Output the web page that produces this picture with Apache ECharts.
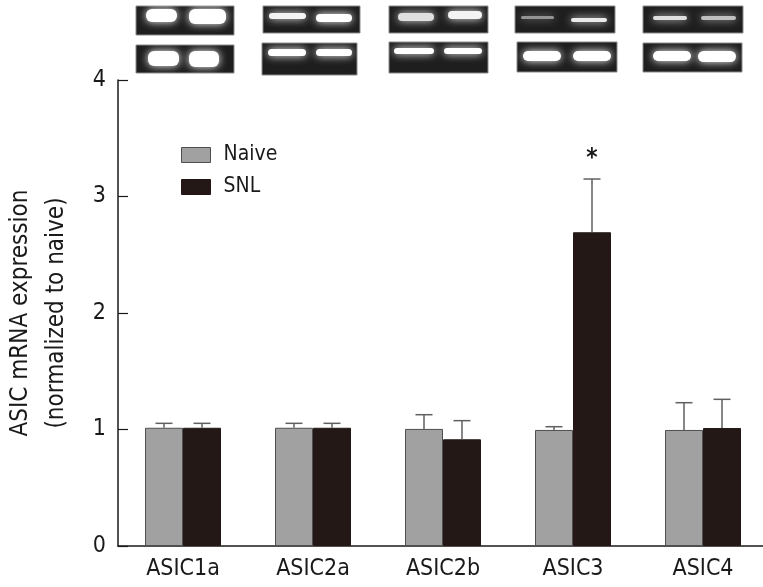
<!DOCTYPE html>
<html>
<head>
<meta charset="utf-8">
<script src="https://cdn.jsdelivr.net/npm/echarts@6/dist/echarts.min.js"></script>
<style>
  html, body { margin: 0; padding: 0; background: #fff; }
  #chart { width: 763px; height: 587px; }
</style>
</head>
<body>
<div id="chart"></div>
<script>
// data
var genes = ['ASIC1a', 'ASIC2a', 'ASIC2b', 'ASIC3', 'ASIC4'];
var naiveMean = [1.015, 1.015, 1.005, 0.996, 0.996];
var naiveErr  = [1.053, 1.053, 1.127, 1.024, 1.23];
var snlMean   = [1.015, 1.015, 0.916, 2.693, 1.013];
var snlErr    = [1.053, 1.053, 1.076, 3.15, 1.259];
var sigMarks  = ['', '', '', '*', ''];
var yTicks    = [0, 1, 2, 3, 4];

var FONT = '"Liberation Sans Narrow", "DejaVu Sans Condensed", sans-serif';
var BAR_W = 38;

// gel photos above the chart (decoration), one entry per gene: [top row, bottom row]
// each row: gel box x, y, w, h and two bands [x, y, w, h, brightness]
var gels = [
  [[136, 6, 98, 29, [[146, 9, 31, 13, 1], [189, 9, 37, 15, 1]]],
   [136, 45, 98, 28, [[148, 51, 31, 15, 1], [189, 51, 30, 16, 1]]]],
  [[263, 6, 97, 27, [[269, 13, 37, 6, 0.95], [316, 14, 36, 8, 1]]],
   [262, 43, 95, 32, [[268, 49, 38, 7, 1], [316, 49, 36, 7, 1]]]],
  [[389, 6, 99, 27, [[398, 13, 36, 8, 0.85], [448, 11, 34, 8, 0.95]]],
   [389, 42, 99, 31, [[394, 48, 40, 6, 1], [444, 48, 38, 6, 1]]]],
  [[515, 6, 100, 27, [[521, 16, 33, 3, 0.5], [571, 18, 36, 4, 0.9]]],
   [517, 42, 100, 30, [[523, 51, 38, 10, 1], [573, 51, 38, 10, 1]]]],
  [[643, 6, 100, 27, [[653, 16, 34, 4, 0.85], [701, 16, 35, 4, 0.7]]],
   [643, 43, 99, 29, [[653, 51, 38, 10, 1], [698, 51, 38, 11, 1]]]]
];

function gelGraphics() {
  var out = [];
  gels.forEach(function (pair) {
    pair.forEach(function (g) {
      out.push({
        type: 'rect', silent: true,
        shape: { x: g[0], y: g[1], width: g[2], height: g[3] },
        style: { fill: '#1e1e1e', stroke: '#8a8a8a', lineWidth: 1 }
      });
      g[4].forEach(function (b) {
        var c = Math.round(40 + 215 * b[4]);
        out.push({
          type: 'rect', silent: true,
          shape: { x: b[0], y: b[1], width: b[2], height: b[3], r: Math.min(b[3] / 2, 6) },
          style: {
            fill: 'rgb(' + c + ',' + c + ',' + c + ')',
            shadowBlur: 9, shadowColor: 'rgba(255,255,255,' + b[4] + ')'
          }
        });
      });
    });
  });
  return out;
}

function errData(mean, err) {
  return mean.map(function (m, i) { return [i, m, err[i]]; });
}

function errRender(side, withMark) {
  return function (params, api) {
    var i = api.value(0);
    var base = api.coord([i, api.value(1)]);
    var top = api.coord([i, api.value(2)]);
    var x = base[0] + side * BAR_W / 2;
    var st = { stroke: '#5f5f5f', lineWidth: 1.5 };
    var children = [
      { type: 'line', shape: { x1: x, y1: base[1], x2: x, y2: top[1] }, style: st },
      { type: 'line', shape: { x1: x - 8.5, y1: top[1], x2: x + 8.5, y2: top[1] }, style: st }
    ];
    var mark = withMark ? sigMarks[i] : '';
    if (mark) {
      children.push({
        type: 'text',
        style: { text: mark, x: x, y: top[1] - 20, align: 'center', verticalAlign: 'middle',
                 font: 'bold 24px ' + FONT, fill: '#1a1a1a' }
      });
    }
    return { type: 'group', children: children };
  };
}

var chart = echarts.init(document.getElementById('chart'));
chart.setOption({
  backgroundColor: '#fff',
  animation: false,
  graphic: gelGraphics(),
  legend: {
    left: 176, top: 139, orient: 'vertical',
    itemWidth: 29, itemHeight: 15, itemGap: 10, icon: 'rect',
    data: ['Naive', 'SNL'],
    itemStyle: { borderWidth: 1 },
    textStyle: { fontFamily: FONT, fontSize: 21, lineHeight: 22, color: '#1a1a1a', padding: [0, 0, 0, 8] }
  },
  grid: { left: 118, top: 80, bottom: 41, width: 650, containLabel: false, outerBoundsMode: 'none' },
  xAxis: {
    type: 'category',
    data: genes,
    axisLine: { lineStyle: { color: '#1a1a1a', width: 1.5 } },
    axisTick: { show: false },
    axisLabel: { fontFamily: FONT, fontSize: 23, color: '#1a1a1a', margin: 12 }
  },
  yAxis: {
    type: 'value',
    min: 0, max: 4, interval: 1,
    name: 'ASIC mRNA expression\n(normalized to naive)',
    nameLocation: 'middle', nameRotate: 90, nameGap: 43,
    nameTextStyle: { fontFamily: FONT, fontSize: 24, color: '#1a1a1a', lineHeight: 36 },
    axisLine: { show: true, lineStyle: { color: '#1a1a1a', width: 1.5 } },
    axisTick: { show: true, inside: true, length: 10, lineStyle: { color: '#1a1a1a', width: 1.2 } },
    axisLabel: {
      fontFamily: FONT, fontSize: 23, color: '#1a1a1a', margin: 12,
      formatter: function (v) { return yTicks.indexOf(v) >= 0 ? String(v) : ''; }
    },
    splitLine: { show: false }
  },
  series: [
    {
      name: 'Naive', type: 'bar', data: naiveMean, barWidth: BAR_W, barGap: '0%',
      itemStyle: { color: '#a0a1a0', borderColor: '#4f4f4f', borderWidth: 1 }
    },
    {
      name: 'SNL', type: 'bar', data: snlMean, barWidth: BAR_W, barGap: '0%',
      itemStyle: { color: '#231815', borderColor: '#231815', borderWidth: 1 }
    },
    {
      type: 'custom', data: errData(naiveMean, naiveErr), renderItem: errRender(-1, false),
      z: 3, silent: true, encode: { x: 0, y: 2 }
    },
    {
      type: 'custom', data: errData(snlMean, snlErr), renderItem: errRender(1, true),
      z: 3, silent: true, encode: { x: 0, y: 2 }
    }
  ]
});
</script>
</body>
</html>
